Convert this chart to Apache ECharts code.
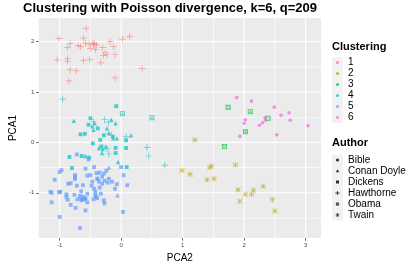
<!DOCTYPE html>
<html>
<head>
<meta charset="utf-8">
<script src="https://cdn.jsdelivr.net/npm/echarts@6/dist/echarts.min.js"></script>
<style>html,body{margin:0;padding:0;background:#fff}#c{width:415px;height:268px}</style>
</head>
<body>
<div id="c"></div>
<script>
// ---- data (PCA2, PCA1, author code) ----
const clusterNames = ['1','2','3','4','5','6'];
const clusterColors = ['#F8766D','#B79F00','#00BA38','#00BFC4','#619CFF','#F564E3'];
const authorCodes = ['B','C','D','H','O','T'];
const authorNames = ['Bible','Conan Doyle','Dickens','Hawthorne','Obama','Twain'];
const xTicks = [-1,0,1,2,3];
const yTicks = [-1,0,1,2];
const xMinor = [-0.5,0.5,1.5,2.5];
const yMinor = [-1.5,-0.5,0.5,1.5];

const cluster1 = [
 [-0.57,2.26,'H'],[-1.01,2.06,'H'],[-0.61,2.07,'H'],[0.14,2.10,'H'],[0.02,2.05,'H'],[-0.83,1.96,'H'],
 [-0.58,1.97,'H'],[-0.43,1.96,'H'],[-0.18,2.00,'H'],[-0.70,1.92,'H'],[-0.66,1.90,'H'],[-0.52,1.95,'H'],
 [-0.45,1.94,'H'],[-0.87,1.88,'H'],[-0.50,1.86,'H'],[-0.42,1.84,'H'],[-0.30,1.88,'H'],[-0.12,1.90,'H'],
 [-0.26,1.78,'H'],[-0.29,1.73,'H'],[-0.23,1.74,'H'],[-0.10,1.74,'H'],[-1.04,1.64,'H'],[-0.87,1.66,'H'],
 [-0.87,1.61,'H'],[-0.61,1.63,'H'],[-0.51,1.65,'H'],[-0.33,1.58,'H'],[0.34,1.47,'H'],[-0.83,1.44,'H'],
 [-0.73,1.42,'H'],[-0.10,1.28,'H'],[-0.85,1.22,'H'],[-0.46,1.97,'H'],[-0.40,1.93,'H']
];
const cluster2 = [
 [1.20,0.05,'T'],[0.99,-0.56,'T'],[1.12,-0.63,'T'],[1.44,-0.50,'T'],[1.47,-0.47,'T'],[1.86,-0.45,'T'],
 [1.40,-0.74,'T'],[1.51,-0.72,'T'],[1.90,-0.94,'T'],[2.02,-1.03,'T'],[2.15,-0.95,'T'],[2.12,-1.03,'T'],
 [2.31,-0.87,'T'],[1.93,-1.17,'T'],[2.46,-1.14,'T'],[2.50,-1.36,'T']
];
const cluster3 = [
 [1.74,0.70,'O'],[2.10,0.61,'O'],[2.39,0.48,'O'],[2.02,0.21,'O'],[1.68,-0.08,'O']
];
const cluster4 = [
 [-0.95,0.86,'H'],[-0.08,0.72,'D'],[0.02,0.57,'O'],[0.50,0.49,'O'],[-0.77,0.43,'C'],[-0.50,0.48,'D'],
 [-0.27,0.45,'H'],[-0.21,0.39,'H'],[-0.16,0.45,'C'],[-0.09,0.38,'C'],[-0.45,0.41,'H'],[-0.43,0.38,'C'],
 [-0.53,0.35,'D'],[-0.47,0.32,'C'],[-0.38,0.28,'D'],[-0.45,0.25,'C'],[-0.59,0.17,'D'],[-0.66,0.16,'D'],
 [-0.23,0.28,'C'],[-0.20,0.19,'C'],[-0.16,0.14,'H'],[-0.13,0.13,'C'],[-0.13,0.08,'C'],[-0.07,0.08,'C'],
 [-0.28,0.14,'D'],[-0.34,0.05,'D'],[-0.46,-0.02,'D'],[0.08,0.11,'H'],[0.08,0.04,'D'],[0.16,0.14,'C'],
 [-0.32,-0.08,'D'],[-0.25,-0.08,'C'],[-0.36,-0.11,'C'],[-0.30,-0.13,'C'],[-0.23,-0.13,'H'],[-0.09,-0.11,'D'],
 [0.08,-0.11,'D'],[0.42,-0.10,'H'],[0.45,-0.27,'H'],[0.71,-0.45,'H'],[-0.31,-0.21,'C'],[-0.20,-0.23,'H'],
 [-0.09,-0.21,'D'],[-0.84,-0.29,'D'],[-0.64,-0.27,'D'],[-0.58,-0.27,'C'],[-0.52,-0.30,'D'],[-0.05,-0.39,'C'],
 [-0.80,-0.51,'D'],[0.09,-0.49,'D'],[-0.38,-0.71,'C']
];
const cluster5 = [
 [-0.72,-0.24,'D'],[-0.53,-0.34,'D'],[0.00,-0.49,'D'],[-0.20,-0.50,'C'],[-0.58,-0.52,'D'],[-0.44,-0.49,'D'],
 [-0.97,-0.55,'D'],[-1.00,-0.59,'D'],[-0.75,-0.65,'D'],[-0.75,-0.69,'D'],[-0.75,-0.73,'D'],[-0.55,-0.66,'D'],
 [-0.50,-0.65,'D'],[-0.40,-0.61,'D'],[-0.35,-0.60,'D'],[-0.24,-0.56,'D'],[-0.28,-0.62,'D'],[-0.31,-0.68,'D'],
 [0.04,-0.65,'D'],[-0.20,-0.72,'D'],[-0.39,-0.72,'D'],[-0.47,-0.78,'D'],[-0.36,-0.78,'D'],[-0.27,-0.76,'D'],
 [-0.31,-0.82,'D'],[-0.22,-0.80,'D'],[-0.15,-0.78,'D'],[-0.07,-0.83,'D'],[0.10,-0.85,'D'],[-1.08,-0.74,'D'],
 [-0.86,-0.82,'D'],[-0.82,-0.81,'D'],[-0.72,-0.86,'D'],[-0.62,-0.85,'D'],[-0.48,-0.86,'D'],[-0.44,-0.92,'D'],
 [-0.35,-0.90,'D'],[-0.10,-0.92,'D'],[-1.15,-0.98,'D'],[-1.13,-1.00,'D'],[-1.01,-0.99,'D'],[-0.99,-0.98,'D'],
 [-0.89,-1.03,'D'],[-0.76,-1.04,'D'],[-0.65,-0.97,'D'],[-0.55,-1.02,'D'],[-0.42,-0.98,'D'],[-0.33,-1.02,'D'],
 [-0.42,-1.04,'D'],[-0.67,-1.06,'D'],[-0.62,-1.08,'D'],[-0.58,-1.11,'D'],[-0.65,-1.12,'D'],[-0.60,-1.13,'D'],
 [-0.39,-1.11,'D'],[-0.06,-1.05,'C'],[-0.87,-1.14,'D'],[-1.13,-1.19,'D'],[-0.82,-1.24,'D'],[-0.74,-1.30,'D'],
 [-0.58,-1.35,'D'],[0.03,-1.38,'D'],[-0.89,-1.08,'D'],[-0.71,-1.13,'D'],[-0.59,-1.12,'D'],[-0.64,-1.15,'D'],
 [-0.55,-1.19,'D'],[-0.45,-1.13,'D'],[-0.41,-1.08,'D'],[-0.28,-1.15,'D'],[-0.27,-1.21,'D'],[-1.00,-1.48,'D'],
 [-0.67,-1.70,'D']
];
const cluster6 = [
 [1.88,0.89,'B'],[2.12,0.82,'B'],[2.49,0.70,'B'],[2.73,0.59,'B'],[2.60,0.54,'B'],[2.02,0.45,'B'],
 [2.00,0.38,'B'],[2.34,0.49,'B'],[2.35,0.44,'B'],[2.30,0.39,'B'],[2.25,0.34,'B'],[2.75,0.44,'B'],
 [3.04,0.33,'B'],[2.53,0.15,'B'],[1.93,0.12,'B']
];
const clusters = [cluster1, cluster2, cluster3, cluster4, cluster5, cluster6];

// ---- symbols ----
const PLUS = 'M4.45,0H5.55V4.45H10V5.55H5.55V10H4.45V5.55H0V4.45H4.45Z';
const STAR = 'M4.5,0H5.5V4.5H10V5.5H5.5V10H4.5V5.5H0V4.5H4.5Z M0.7,0L10,9.3L9.3,10L0,0.7Z M9.3,0L10,0.7L0.7,10L0,9.3Z';
const SQX = 'M0,0H10V10H0Z M1.6,1.6V8.4H8.4V1.6Z M1.6,0.9L9.1,8.4L8.4,9.1L0.9,1.6Z M8.4,0.9L9.1,1.6L1.6,9.1L0.9,8.4Z';
const shapeOf = {B:'circle', C:'triangle', D:'rect', H:'path://'+PLUS, O:'path://'+SQX, T:'path://'+STAR};
const sizeOf = {B:3.6, C:4.4, D:3.8, H:6.5, O:5, T:5.5};

// legend icons padded to an 11x11 box
const PAD = 'M0,0 M11,11 ';
const dotIcon = 'path://' + PAD + 'M3.9,5.5 A1.6,1.6 0 1 0 7.1,5.5 A1.6,1.6 0 1 0 3.9,5.5 Z';
const authorIcons = {
  B: dotIcon,
  C: 'path://' + PAD + 'M5.5,3.7 L7.2,6.8 L3.8,6.8 Z',
  D: 'path://' + PAD + 'M4,4 H7 V7 H4 Z',
  H: 'path://' + PAD + 'M5.1,3.4 H5.9 V5.1 H7.6 V5.9 H5.9 V7.6 H5.1 V5.9 H3.4 V5.1 H5.1 Z',
  O: 'path://' + PAD + 'M3.9,3.9 H7.1 V7.1 H3.9 Z M4.5,4.5 V6.5 H6.5 V4.5 Z M4.3,3.9 L7.1,6.7 L6.7,7.1 L3.9,4.3 Z M6.7,3.9 L7.1,4.3 L4.3,7.1 L3.9,6.7 Z',
  T: 'path://' + PAD + 'M5.2,3.5 H5.8 V5.2 H7.5 V5.8 H5.8 V7.5 H5.2 V5.8 H3.5 V5.2 H5.2 Z M4.1,3.8 L7.2,6.9 L6.9,7.2 L3.8,4.1 Z M6.9,3.8 L7.2,4.1 L4.1,7.2 L3.8,6.9 Z'
};

const FONT = 'Liberation Sans, Arial, sans-serif';

// grid line records: [orientation (0 = vertical at x value, 1 = horizontal at y value), value, lineWidth]
const gridData = []
  .concat(xMinor.map(v => [0, v, 0.6]))
  .concat(yMinor.map(v => [1, v, 0.6]))
  .concat(xTicks.map(v => [0, v, 1.1]))
  .concat(yTicks.map(v => [1, v, 1.1]));

const series = [{
  type: 'custom', name: '_grid', z: 2, silent: true, animation: false,
  coordinateSystem: 'cartesian2d', clip: false,
  data: gridData,
  renderItem: function (params, api) {
    const cs = params.coordSys;
    const o = api.value(0), v = api.value(1), w = api.value(2);
    let shape;
    if (o === 0) {
      const px = api.coord([v, 0])[0];
      shape = {x: px - w / 2, y: cs.y, width: w, height: cs.height};
    } else {
      const py = api.coord([0, v])[1];
      shape = {x: cs.x, y: py - w / 2, width: cs.width, height: w};
    }
    return {type: 'rect', shape: shape, style: {fill: '#FFFFFF'}};
  }
}];
clusters.forEach((pts, i) => {
  series.push({
    type: 'scatter', name: clusterNames[i], z: 3,
    itemStyle: {color: clusterColors[i], opacity: 0.7},
    data: pts.map(p => ({value: [p[0], p[1]], symbol: shapeOf[p[2]], symbolSize: sizeOf[p[2]]}))
  });
});
authorNames.forEach((n) => {
  series.push({type: 'scatter', name: n, data: [], itemStyle: {color: '#000'}});
});

const chart = echarts.init(document.getElementById('c'), null, {renderer: 'canvas'});
chart.setOption({
  animation: false,
  textStyle: {fontFamily: FONT},
  title: [
    {text: 'Clustering with Poisson divergence, k=6, q=209', left: 23, top: 2, padding: 0,
     textStyle: {fontSize: 13, fontWeight: 'bold', color: '#000', fontFamily: FONT}},
    {text: 'Clustering', left: 332, top: 41, padding: 0,
     textStyle: {fontSize: 11, fontWeight: 'bold', color: '#000', fontFamily: FONT}},
    {text: 'Author', left: 332, top: 137, padding: 0,
     textStyle: {fontSize: 11, fontWeight: 'bold', color: '#000', fontFamily: FONT}}
  ],
  graphic: [
    {type: 'rect', left: 332, top: 57, shape: {width: 11, height: 66}, style: {fill: '#F2F2F2'}, z: -1, silent: true},
    {type: 'rect', left: 332, top: 154.5, shape: {width: 11, height: 66}, style: {fill: '#F2F2F2'}, z: -1, silent: true}
  ],
  legend: [
    {data: clusterNames.map(n => ({name: n, icon: dotIcon})), orient: 'vertical', left: 332, top: 57,
     itemWidth: 11, itemHeight: 11, itemGap: 0, padding: 0, selectedMode: false,
     textStyle: {fontSize: 10, color: '#000', lineHeight: 11, fontFamily: FONT}},
    {data: authorNames.map((n, i) => ({name: n, icon: authorIcons[authorCodes[i]]})), orient: 'vertical', left: 332, top: 154.5,
     itemWidth: 11, itemHeight: 11, itemGap: 0, padding: 0, selectedMode: false,
     textStyle: {fontSize: 10, color: '#000', lineHeight: 11, fontFamily: FONT}}
  ],
  grid: {left: 23, top: 18, width: 298, height: 225, show: true, backgroundColor: '#EBEBEB', borderWidth: 0},
  xAxis: {
    type: 'value', min: -1.34, max: 3.25,
    axisLine: {show: false, onZero: false},
    axisTick: {show: true, length: 2.5, lineStyle: {color: '#333333', width: 0.8}, customValues: xTicks},
    axisLabel: {customValues: xTicks, fontSize: 6, color: '#4D4D4D', margin: 4, fontFamily: FONT},
    splitLine: {show: false},
    name: 'PCA2', nameLocation: 'middle', nameGap: 10,
    nameTextStyle: {fontSize: 10, color: '#000', fontFamily: FONT}
  },
  yAxis: {
    type: 'value', min: -1.9, max: 2.47,
    axisLine: {show: false, onZero: false},
    axisTick: {show: true, length: 2.5, lineStyle: {color: '#333333', width: 0.8}, customValues: yTicks},
    axisLabel: {customValues: yTicks, fontSize: 6, color: '#4D4D4D', margin: 4.5, fontFamily: FONT},
    splitLine: {show: false},
    name: 'PCA1', nameLocation: 'middle', nameGap: 10, nameRotate: 90,
    nameTextStyle: {fontSize: 10, color: '#000', fontFamily: FONT}
  },
  series: series
});
</script>
</body>
</html>
